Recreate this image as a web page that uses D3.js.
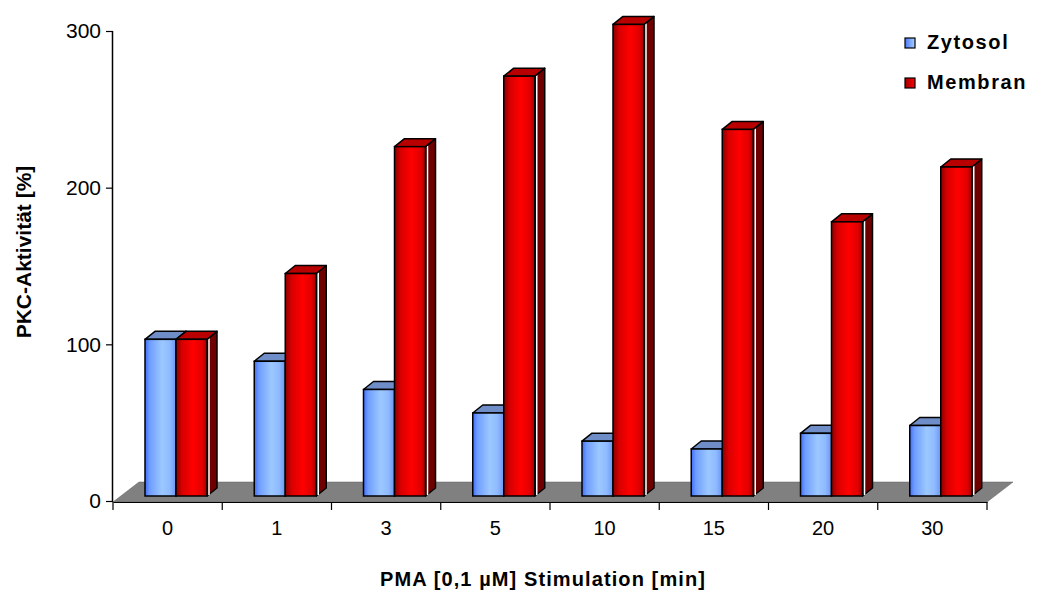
<!DOCTYPE html>
<html>
<head>
<meta charset="utf-8">
<script src="https://cdn.jsdelivr.net/npm/d3@7"></script>
<style>
  html, body { margin: 0; padding: 0; background: #fff; }
  svg { display: block; font-family: "Liberation Sans", Arial, sans-serif; }
</style>
</head>
<body>
<svg id="chart" width="1040" height="592"></svg>
<script>
const categories = ["0", "1", "3", "5", "10", "15", "20", "30"];
const seriesNames = ["Zytosol", "Membran"];
const zytosol = [100, 86, 68, 53, 35, 30, 40, 45];
const membran = [100, 142, 223, 268, 301, 234, 175, 210];
const yTicks = [0, 100, 200, 300];
const xTitle = "PMA [0,1 µM] Stimulation [min]";
const yTitle = "PKC-Aktivität [%]";

const svg = d3.select("#chart");
const defs = svg.append("defs");

function hGrad(id, stops) {
  const g = defs.append("linearGradient").attr("id", id)
    .attr("x1", "0%").attr("x2", "100%").attr("y1", "0%").attr("y2", "0%");
  stops.forEach(s => g.append("stop").attr("offset", s[0]).attr("stop-color", s[1]));
}
hGrad("gBlue", [["0%", "#3f6cff"], ["15%", "#6f9dff"], ["55%", "#9cc8ff"], ["80%", "#8fbaff"], ["100%", "#6a96f0"]]);
hGrad("gRed", [["0%", "#8a0000"], ["20%", "#d80000"], ["55%", "#ff0000"], ["85%", "#e00000"], ["100%", "#a00000"]]);
hGrad("gBlueL", [["0%", "#4a78ff"], ["100%", "#a8d0ff"]]);
hGrad("gRedL", [["0%", "#a00000"], ["100%", "#ff0000"]]);

const left = 113, right = 987, y0px = 501, y300px = 31;
const x = d3.scaleBand().domain(categories).range([left, right]).padding(0);
const xs = d3.scaleBand().domain(seriesNames).range([26, 88]).padding(0);
const y = d3.scaleLinear().domain([0, 300]).range([y0px, y300px]);

// 3D geometry
const floorD = [26, -20];   // floor depth vector
const barOff = [6, -5];     // bar front plane offset
const barD = [10, -8];      // bar depth vector

// floor
const floorPts = [[left, y0px + 1], [right, y0px + 1], [right + floorD[0], y0px + 1 + floorD[1]], [left + floorD[0], y0px + 1 + floorD[1]]];
svg.append("polygon")
  .attr("points", floorPts.map(p => p.join(",")).join(" "))
  .attr("fill", "#808080").attr("stroke", "#606060").attr("stroke-width", 0.5);

// bars
const data = [];
categories.forEach((c, i) => {
  data.push({ c, s: "Zytosol", v: zytosol[i] });
  data.push({ c, s: "Membran", v: membran[i] });
});
const style = {
  Zytosol: { front: "url(#gBlue)", top: "#6f8ec8", side: "#3050a0" },
  Membran: { front: "url(#gRed)", top: "#b80000", side: "#6e0000" }
};
const bars = svg.append("g").attr("class", "bars");
data.forEach(d => {
  const x0 = x(d.c) + xs(d.s) + barOff[0];
  const x1 = x0 + xs.bandwidth();
  const yb = y(0) + barOff[1];
  const yt = y(d.v) + barOff[1];
  const st = style[d.s];
  const g = bars.append("g");
  // side face
  g.append("polygon")
    .attr("points", [[x1, yb], [x1 + barD[0], yb + barD[1]], [x1 + barD[0], yt + barD[1]], [x1, yt]].map(p => p.join(",")).join(" "))
    .attr("fill", st.side).attr("stroke", "#000").attr("stroke-width", 1.5).attr("stroke-linejoin", "round");
  g.append("line")
    .attr("x1", x1 + 2).attr("x2", x1 + 2)
    .attr("y1", yt - 1).attr("y2", yb - 1)
    .attr("stroke", "#ffffff").attr("stroke-width", 1.5);
  // top face
  g.append("polygon")
    .attr("points", [[x0, yt], [x1, yt], [x1 + barD[0], yt + barD[1]], [x0 + barD[0], yt + barD[1]]].map(p => p.join(",")).join(" "))
    .attr("fill", st.top).attr("stroke", "#000").attr("stroke-width", 1.5).attr("stroke-linejoin", "round");
  // front face
  g.append("rect")
    .attr("x", x0).attr("y", yt).attr("width", xs.bandwidth()).attr("height", yb - yt)
    .attr("fill", st.front).attr("stroke", "#000").attr("stroke-width", 1.5);
});

// y axis
const yAxis = d3.axisLeft(y).tickValues(yTicks).tickSize(7).tickPadding(5);
const gy = svg.append("g").attr("transform", `translate(${left},0)`).call(yAxis);
gy.select(".domain").attr("d", `M-0.5,${y300px}V${y0px + 1}`).attr("stroke", "#000").attr("stroke-width", 1.5);
gy.selectAll(".tick line").attr("stroke", "#000").attr("stroke-width", 1.2);
gy.selectAll(".tick text").attr("font-size", 21).attr("fill", "#000")
  .attr("font-family", "'Liberation Sans', Arial, sans-serif");

// x axis
const xAxis = d3.axisBottom(x).tickSize(0).tickPadding(19);
const gx = svg.append("g").attr("transform", `translate(0,${y0px + 1})`).call(xAxis);
gx.select(".domain").attr("stroke", "#000").attr("stroke-width", 1.2);
gx.selectAll(".tick text").attr("font-size", 20).attr("fill", "#000")
  .attr("font-family", "'Liberation Sans', Arial, sans-serif");
const bounds = categories.map(c => x(c)).concat([x(categories[categories.length - 1]) + x.bandwidth()]);
gx.selectAll(".bound").data(bounds).enter().append("line")
  .attr("class", "bound")
  .attr("x1", d => d).attr("x2", d => d).attr("y1", 0).attr("y2", 8)
  .attr("stroke", "#000").attr("stroke-width", 1.2);

// titles
svg.append("text")
  .attr("x", 543).attr("y", 586).attr("text-anchor", "middle")
  .attr("font-size", 20).attr("font-weight", "bold").attr("letter-spacing", 1.1)
  .text(xTitle);
svg.append("text")
  .attr("transform", "translate(31,252) rotate(-90)").attr("text-anchor", "middle")
  .attr("font-size", 21).attr("font-weight", "bold")
  .text(yTitle);

// legend
const legend = svg.append("g").attr("transform", "translate(905,38)");
const legendFill = { Zytosol: "url(#gBlueL)", Membran: "url(#gRedL)" };
seriesNames.forEach((s, i) => {
  const g = legend.append("g").attr("transform", `translate(0,${i * 40})`);
  g.append("rect").attr("x", 0).attr("y", 0).attr("width", 10).attr("height", 10)
    .attr("fill", legendFill[s]).attr("stroke", "#000").attr("stroke-width", 1.2);
  g.append("text").attr("x", 22).attr("y", 11)
    .attr("font-size", 20).attr("font-weight", "bold").attr("letter-spacing", 1.6)
    .text(s);
});
</script>
</body>
</html>
